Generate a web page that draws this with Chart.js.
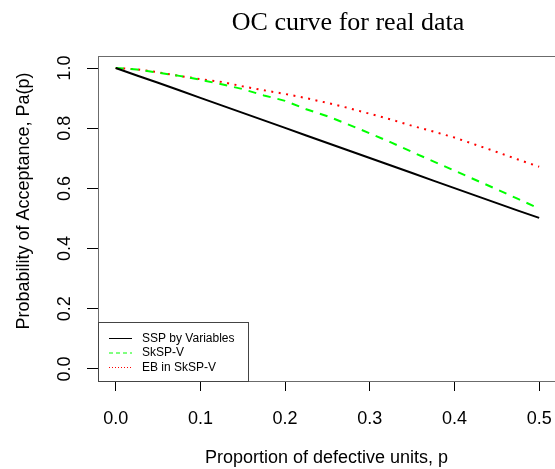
<!DOCTYPE html>
<html lang="en">
<head>
    <meta charset="UTF-8">
    <title>OC curve for real data</title>
    <script src="https://cdn.jsdelivr.net/npm/chart.js"></script>
    <style>
        html, body { margin: 0; padding: 0; background: #fff; overflow: hidden; }
        canvas { display: block; }
    </style>
</head>
<body>
    <canvas id="ocChart" width="555" height="469"></canvas>

<script>
    // proportion of defective units
    const pValues = [0, 0.025, 0.05, 0.075, 0.1, 0.125, 0.15, 0.175, 0.2, 0.225, 0.25,
        0.275, 0.3, 0.325, 0.35, 0.375, 0.4, 0.425, 0.45, 0.475, 0.5];

    // probability of acceptance
    const ssp = [1.0, 0.975, 0.951, 0.926, 0.901, 0.876, 0.851, 0.826, 0.801, 0.776, 0.751,
        0.726, 0.701, 0.676, 0.651, 0.626, 0.601, 0.576, 0.551, 0.526, 0.502];
    const skspV = [1.0, 0.995, 0.985, 0.974, 0.961, 0.946, 0.930, 0.909, 0.891, 0.863, 0.840,
        0.812, 0.783, 0.753, 0.721, 0.690, 0.659, 0.628, 0.597, 0.565, 0.533];
    const ebSkspV = [1.0, 0.996, 0.986, 0.974, 0.963, 0.954, 0.939, 0.926, 0.914, 0.900, 0.884,
        0.867, 0.848, 0.829, 0.808, 0.789, 0.769, 0.745, 0.721, 0.696, 0.672];

    const seriesNames = ['SSP by Variables', 'SkSP-V', 'EB in SkSP-V'];
    const xTicks = [0, 0.1, 0.2, 0.3, 0.4, 0.5];
    const yTicks = [0, 0.2, 0.4, 0.6, 0.8, 1.0];

    const chartTitle = 'OC curve for real data';
    const xTitle = 'Proportion of defective units, p';
    const yTitle = 'Probability of Acceptance, Pa(p)';

    function pontos(valores) {
        return pValues.map((p, i) => ({ x: p, y: valores[i] }));
    }

    // box, title, y title and legend like the R plot
    const desenhoR = {
        id: 'desenhoR',
        afterDraw(chart) {
            const ctx = chart.ctx;
            const area = chart.chartArea;
            ctx.save();

            ctx.strokeStyle = '#6b6b6b';
            ctx.lineWidth = 1;
            ctx.strokeRect(area.left + 0.5, area.top + 0.5, area.right - area.left, area.bottom - area.top);

            ctx.fillStyle = '#000';
            ctx.font = '26px "Liberation Serif", serif';
            ctx.textAlign = 'center';
            ctx.textBaseline = 'alphabetic';
            ctx.fillText(chartTitle, 348, 30);

            ctx.font = '18px "Liberation Sans", Arial, sans-serif';
            ctx.translate(29, 201);
            ctx.rotate(-Math.PI / 2);
            ctx.textBaseline = 'alphabetic';
            ctx.fillText(yTitle, 0, 0);
            ctx.setTransform(1, 0, 0, 1, 0, 0);

            // legend
            const lx = area.left, ly = 322, lw = 150, lh = area.bottom - ly;
            ctx.fillStyle = '#fff';
            ctx.fillRect(lx, ly, lw, lh);
            ctx.strokeStyle = '#444';
            ctx.strokeRect(lx + 0.5, ly + 0.5, lw, lh);
            ctx.font = '12px "Liberation Sans", Arial, sans-serif';
            ctx.textAlign = 'left';
            ctx.textBaseline = 'middle';
            chart.data.datasets.forEach((ds, i) => {
                const yy = 338.5 + i * 14.5;
                ctx.strokeStyle = ds.borderColor;
                ctx.lineWidth = 1;
                ctx.setLineDash(ds.legendDash);
                ctx.beginPath();
                ctx.moveTo(109, yy);
                ctx.lineTo(132, yy);
                ctx.stroke();
                ctx.setLineDash([]);
                ctx.fillStyle = '#000';
                ctx.fillText(ds.label, 142, yy);
            });
            ctx.restore();
        }
    };

    const dados = {
        datasets: [{
            label: seriesNames[0],
            data: pontos(ssp),
            borderColor: '#000000',
            borderWidth: 2,
            borderDash: [],
            legendDash: []
        }, {
            label: seriesNames[1],
            data: pontos(skspV),
            borderColor: '#00ff00',
            borderWidth: 2,
            borderDash: [8, 7],
            legendDash: [4, 3]
        }, {
            label: seriesNames[2],
            data: pontos(ebSkspV),
            borderColor: '#ff0000',
            borderWidth: 2,
            borderDash: [2, 5.5],
            legendDash: [1, 2]
        }]
    };

    const config = {
        type: 'line',
        data: dados,
        options: {
            responsive: false,
            animation: false,
            layout: { padding: { top: 56, right: 0, bottom: 0, left: 0 } },
            elements: {
                point: { radius: 0 },
                line: { tension: 0, fill: false }
            },
            plugins: {
                legend: { display: false },
                title: { display: false },
                tooltip: { enabled: false }
            },
            scales: {
                x: {
                    type: 'linear',
                    min: -0.0209,
                    max: 0.5187,
                    afterBuildTicks: (scale) => { scale.ticks = xTicks.map(v => ({ value: v })); },
                    afterFit: (scale) => {
                        scale.height = 88;
                        scale.paddingLeft = 0;
                        scale.paddingRight = 0;
                    },
                    border: { display: false },
                    grid: { drawOnChartArea: false, drawTicks: true, tickLength: 10, color: '#000' },
                    ticks: {
                        color: '#000',
                        padding: 17,
                        maxRotation: 0,
                        font: { family: '"Liberation Sans", Arial, sans-serif', size: 18 },
                        callback: (v) => v.toFixed(1)
                    },
                    title: {
                        display: true,
                        text: xTitle,
                        color: '#000',
                        padding: { top: 0, bottom: 0 },
                        font: { family: '"Liberation Sans", Arial, sans-serif', size: 18 }
                    }
                },
                y: {
                    type: 'linear',
                    min: -0.04,
                    max: 1.04,
                    afterBuildTicks: (scale) => { scale.ticks = yTicks.map(v => ({ value: v })); },
                    afterFit: (scale) => {
                        scale.width = 98;
                        scale.paddingTop = 0;
                        scale.paddingBottom = 0;
                    },
                    border: { display: false },
                    grid: { drawOnChartArea: false, drawTicks: true, tickLength: 11, color: '#000' },
                    ticks: {
                        color: '#000',
                        padding: 9,
                        crossAlign: 'center',
                        minRotation: 90,
                        maxRotation: 90,
                        font: { family: '"Liberation Sans", Arial, sans-serif', size: 18 },
                        callback: (v) => v.toFixed(1)
                    }
                }
            }
        },
        plugins: [desenhoR]
    };

    let myChart = new Chart(document.getElementById('ocChart'), config);
</script>
</body>
</html>
